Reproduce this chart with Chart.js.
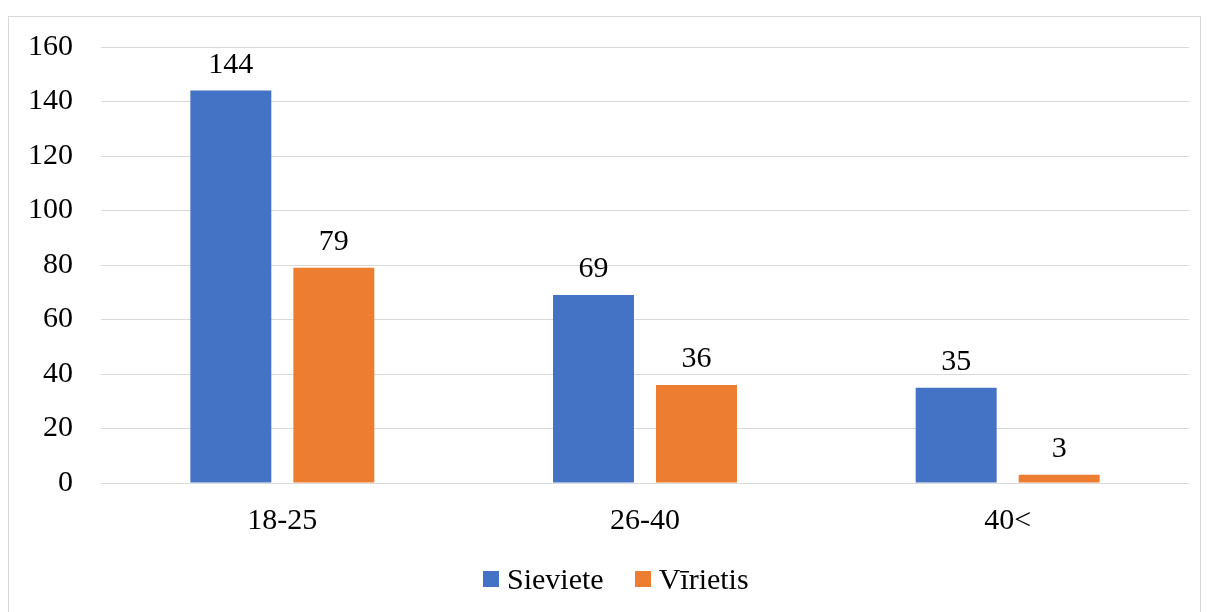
<!DOCTYPE html>
<html>
<head>
<meta charset="utf-8">
<script src="https://cdn.jsdelivr.net/npm/chart.js@4"></script>
<style>
    html, body { margin: 0; padding: 0; background: #fff; }
    .wrap { position: relative; width: 1208px; height: 612px; overflow: hidden; }
    .frame { position: absolute; left: 8px; top: 16px; width: 1191px; height: 640px; border: 1px solid #d9d9d9; }
    canvas { position: absolute; left: 0; top: 0; }
    .legend { position: absolute; top: 559px; left: 483px; height: 40px; display: flex; align-items: center;
              font-family: "Liberation Serif", "Times New Roman", serif; font-size: 30px; color: #000; }
    .legend .item { display: flex; align-items: center; margin-right: 31px; }
    .legend .box { width: 16px; height: 16px; margin-right: 8px; }
</style>
</head>
<body>
<div class="wrap">
    <div class="frame"></div>
    <canvas id="chart" width="1208" height="612"></canvas>
    <div class="legend" id="legend"></div>
</div>
<script>
// Chart data
const categories = ['18-25', '26-40', '40<'];
const seriesNames = ['Sieviete', 'Vīrietis'];
const seriesColors = ['#4472C4', '#ED7D31'];
const sievieteValues = [144, 69, 35];
const virietisValues = [79, 36, 3];
const yTicks = [0, 20, 40, 60, 80, 100, 120, 140, 160];

const fontFamily = '"Liberation Serif", "Times New Roman", serif';

// Value labels above each bar
const valueLabels = {
    id: 'valueLabels',
    afterDatasetsDraw(chart) {
        const ctx = chart.ctx;
        ctx.save();
        ctx.font = '30px ' + fontFamily;
        ctx.fillStyle = '#000';
        ctx.textAlign = 'center';
        ctx.textBaseline = 'alphabetic';
        chart.data.datasets.forEach((ds, i) => {
            const meta = chart.getDatasetMeta(i);
            meta.data.forEach((bar, j) => {
                ctx.fillText(String(ds.data[j]), bar.x, bar.y - 18);
            });
        });
        ctx.restore();
    }
};

const chart = new Chart(document.getElementById('chart'), {
    type: 'bar',
    data: {
        labels: categories,
        datasets: [
            {
                label: seriesNames[0],
                data: sievieteValues,
                backgroundColor: seriesColors[0],
                categoryPercentage: 0.568,
                barPercentage: 0.786
            },
            {
                label: seriesNames[1],
                data: virietisValues,
                backgroundColor: seriesColors[1],
                categoryPercentage: 0.568,
                barPercentage: 0.786
            }
        ]
    },
    options: {
        responsive: false,
        animation: false,
        layout: {
            padding: { top: 47, right: 19, bottom: 53, left: 0 }
        },
        plugins: {
            legend: { display: false },
            tooltip: { enabled: false }
        },
        scales: {
            x: {
                grid: { display: false, drawTicks: false },
                border: { display: false },
                ticks: {
                    padding: 20,
                    color: '#000',
                    font: { family: fontFamily, size: 30 }
                }
            },
            y: {
                min: 0,
                max: 160,
                afterFit(scale) { scale.width = 101; },
                afterBuildTicks(scale) { scale.ticks = yTicks.map(v => ({ value: v })); },
                grid: { color: '#d9d9d9', lineWidth: 1, drawTicks: false },
                border: { display: false },
                ticks: {
                    padding: 28,
                    color: '#000',
                    font: { family: fontFamily, size: 30 }
                }
            }
        }
    },
    plugins: [valueLabels]
});

// HTML legend built from the datasets
const legendEl = document.getElementById('legend');
chart.data.datasets.forEach(ds => {
    const item = document.createElement('div');
    item.className = 'item';
    const box = document.createElement('span');
    box.className = 'box';
    box.style.background = ds.backgroundColor;
    const label = document.createElement('span');
    label.textContent = ds.label;
    item.appendChild(box);
    item.appendChild(label);
    legendEl.appendChild(item);
});
</script>
</body>
</html>
